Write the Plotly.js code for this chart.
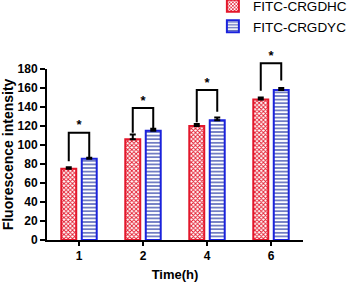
<!DOCTYPE html>
<html>
<head>
<meta charset="utf-8">
<script src="https://cdn.plot.ly/plotly-3.0.1.min.js"></script>
<style>html,body{margin:0;padding:0;background:#fff;}#chart{width:351px;height:282px;}</style>
</head>
<body>
<div id="chart"></div>
<script>
// ---- data ----
const categories = ['1', '2', '4', '6'];          // Time (h)
const seriesNames = ['FITC-CRGDHC', 'FITC-CRGDYC'];
const crgdhc = [75, 106, 120, 148];
const crgdhcErr = [1.5, 5, 2, 2];
const crgdyc = [85.5, 115, 126, 158];
const crgdycErr = [1, 2, 3, 2];
// significance brackets (data units)
const sigTop = [113, 139, 158, 186];
const sigLeftBottom = [83, 113, 124, 157];
const sigRightBottom = [87, 118, 135, 168];
const sigLabel = ['*', '*', '*', '*'];
const yTicks = [0, 20, 40, 60, 80, 100, 120, 140, 160, 180];

// ---- layout constants ----
const bargap = 0.36, bargroupgap = 0.27;
const slot = (1 - bargap) / 2;
const off = slot / 2;
const mainDomainTop = 0.855;
const yMax = 180;

const xIdx = categories.map((c, i) => i);
const zeros = categories.map(() => 0);

const red = '#e3172b', blue = '#1a22dc';

const traces = [
  {
    type: 'bar', name: seriesNames[0], x: xIdx, y: crgdhc,
    marker: {color: red, line: {color: red, width: 2},
      pattern: {shape: 'x', fgcolor: red, bgcolor: '#ffffff', size: 3, solidity: 0.5}},
    error_y: {type: 'data', symmetric: false, array: crgdhcErr, arrayminus: zeros, color: '#000', thickness: 2, width: 3},
    hoverinfo: 'skip'
  },
  {
    type: 'bar', name: seriesNames[1], x: xIdx, y: crgdyc,
    marker: {color: blue, line: {color: blue, width: 2},
      pattern: {shape: '-', fgcolor: '#4e5cb4', bgcolor: '#ffffff', size: 3.6, solidity: 0.4}},
    error_y: {type: 'data', symmetric: false, array: crgdycErr, arrayminus: zeros, color: '#000', thickness: 2, width: 3},
    hoverinfo: 'skip'
  }
];

// brackets
const bx = [], by = [];
xIdx.forEach((i, k) => {
  bx.push(i - off, i - off, i + off, i + off, null);
  by.push(sigLeftBottom[k], sigTop[k], sigTop[k], sigRightBottom[k], null);
});
traces.push({
  type: 'scatter', mode: 'lines', x: bx, y: by, xaxis: 'x2', yaxis: 'y2',
  line: {color: '#000', width: 2}, showlegend: false, hoverinfo: 'skip', connectgaps: false
});
traces.push({
  type: 'scatter', mode: 'text', x: xIdx, y: sigTop, text: sigLabel, xaxis: 'x2', yaxis: 'y2',
  textposition: 'top center', textfont: {size: 13, color: '#000', weight: 'bold'},
  cliponaxis: false, showlegend: false, hoverinfo: 'skip'
});

const tickFont = {family: 'Liberation Sans, Arial, sans-serif', size: 12, color: '#000', weight: 'bold'};

const layout = {
  width: 351, height: 282,
  margin: {l: 47, r: 48, t: 40, b: 42, autoexpand: false},
  paper_bgcolor: '#fff', plot_bgcolor: 'rgba(0,0,0,0)',
  font: {family: 'Liberation Sans, Arial, sans-serif', color: '#000'},
  barmode: 'group', bargap: bargap, bargroupgap: bargroupgap,
  showlegend: true,
  legend: {x: 0.648, xanchor: 'left', y: 1.2475, yanchor: 'top', font: {size: 13.5, color: '#000'},
    bgcolor: 'rgba(0,0,0,0)', borderwidth: 0, tracegroupgap: 0, itemwidth: 30},
  xaxis: {
    domain: [0, 1], range: [-0.5, 3.5], tickvals: xIdx, ticktext: categories,
    showline: true, linewidth: 2, linecolor: '#000', ticks: 'outside', ticklen: 4, tickwidth: 2, tickcolor: '#000',
    tickfont: tickFont, showgrid: false, zeroline: false, fixedrange: true,
    title: {text: 'Time(h)', font: {size: 13, weight: 'bold', color: '#000'}, standoff: 8}
  },
  yaxis: {
    domain: [0, mainDomainTop], range: [0, yMax], tickvals: yTicks,
    showline: true, linewidth: 2, linecolor: '#000', ticks: 'outside', ticklen: 5, tickwidth: 2, tickcolor: '#000',
    tickfont: tickFont, showgrid: false, zeroline: false, fixedrange: true,
    title: {text: 'Fluorescence intensity', font: {size: 14, weight: 'bold', color: '#000'}, standoff: 6}
  },
  xaxis2: {domain: [0, 1], range: [-0.5, 3.5], visible: false, anchor: 'y2', fixedrange: true},
  yaxis2: {domain: [0, 1], range: [0, yMax / mainDomainTop], visible: false, anchor: 'x2', fixedrange: true}
};

Plotly.newPlot('chart', traces, layout, {displayModeBar: false, staticPlot: true});
</script>
</body>
</html>
